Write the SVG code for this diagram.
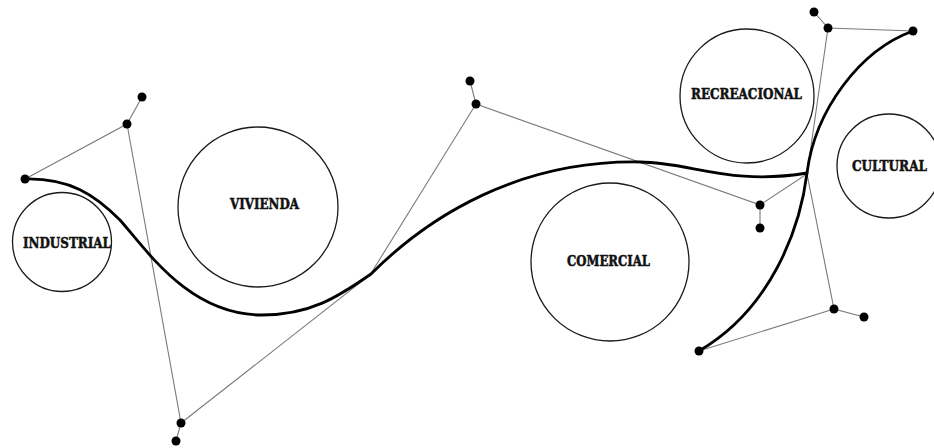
<svg xmlns="http://www.w3.org/2000/svg" width="934" height="448" viewBox="0 0 934 448">
<style>
.zone{fill:#fff;stroke:#1a1a1a;stroke-width:1.3}
.lbl{font-family:"DejaVu Serif","Liberation Serif",serif;font-weight:bold;font-size:14px;fill:#111;stroke:#111;stroke-width:0.5}
.handle{fill:none;stroke:#7a7a7a;stroke-width:1.1}
.path{fill:none;stroke:#000;stroke-width:2.8;stroke-linecap:round}
.dot{fill:#000}
</style>
<rect width="934" height="448" fill="#fff"/>
<g id="industrial"><circle class="zone" cx="62" cy="242" r="49.5"/><text class="lbl" x="23" y="248" textLength="88" lengthAdjust="spacingAndGlyphs">INDUSTRIAL</text></g>
<g id="vivienda"><circle class="zone" cx="258" cy="207" r="80"/><text class="lbl" x="230" y="209" textLength="69" lengthAdjust="spacingAndGlyphs">VIVIENDA</text></g>
<g id="comercial"><circle class="zone" cx="610" cy="262" r="79"/><text class="lbl" x="567" y="266" textLength="83" lengthAdjust="spacingAndGlyphs">COMERCIAL</text></g>
<g id="recreacional"><circle class="zone" cx="747" cy="96" r="67"/><text class="lbl" x="691" y="99" textLength="111" lengthAdjust="spacingAndGlyphs">RECREACIONAL</text></g>
<g id="cultural"><circle class="zone" cx="889" cy="166" r="52"/><text class="lbl" x="852" y="171" textLength="75" lengthAdjust="spacingAndGlyphs">CULTURAL</text></g>
<g id="connectors">
<polyline class="handle" points="142,97 127,124 25,179"/>
<polyline class="handle" points="127,124 181,423 176,441"/>
<polyline class="handle" points="181,423 370,275 476,104 470,81"/>
<polyline class="handle" points="476,104 760,205 760,228"/>
<polyline class="handle" points="760,205 807,174 828,28 814,12"/>
<polyline class="handle" points="828,28 913,31"/>
<polyline class="handle" points="807,174 834,309 864,317"/>
<polyline class="handle" points="834,309 699,351"/>
<path class="path" d="M25,179 C70,178 95,195 120,220 C148,252 190,315 262,315 C310,315 338,297 371,274 C430,215 520,160 640,162 C690,162 730,186 807,173"/>
<path class="path" d="M913,31 C860,50 815,110 807,173 C800,230 770,310 699,351"/>
<circle class="dot" cx="25" cy="179" r="4.5"/>
<circle class="dot" cx="127" cy="124" r="4.5"/>
<circle class="dot" cx="142" cy="97" r="4.5"/>
<circle class="dot" cx="181" cy="423" r="4.5"/>
<circle class="dot" cx="176" cy="441" r="4.5"/>
<circle class="dot" cx="476" cy="104" r="4.5"/>
<circle class="dot" cx="470" cy="81" r="4.5"/>
<circle class="dot" cx="760" cy="205" r="4.5"/>
<circle class="dot" cx="760" cy="228" r="4.5"/>
<circle class="dot" cx="828" cy="28" r="4.5"/>
<circle class="dot" cx="814" cy="12" r="4.5"/>
<circle class="dot" cx="913" cy="31" r="4.5"/>
<circle class="dot" cx="834" cy="309" r="4.5"/>
<circle class="dot" cx="864" cy="317" r="4.5"/>
<circle class="dot" cx="699" cy="351" r="4.5"/>
</g>
</svg>
